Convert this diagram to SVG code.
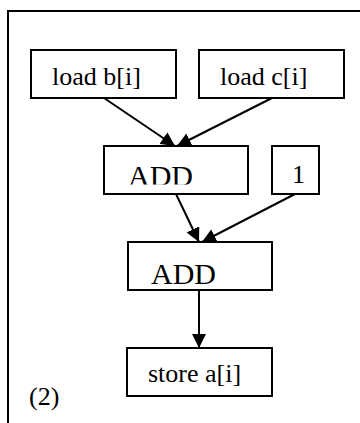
<svg xmlns="http://www.w3.org/2000/svg" width="360" height="423" viewBox="0 0 360 423">
<style>
.box{fill:#fff;stroke:#000;stroke-width:2}
.t{font-family:"Liberation Serif","Times New Roman",serif;font-size:26px;fill:#000}
.big{font-size:30px}
.edge{stroke:#000;stroke-width:2;fill:none}
</style>
<defs>
<marker id="ah" markerUnits="userSpaceOnUse" markerWidth="15" markerHeight="14" refX="14" refY="7" orient="auto">
<path d="M0,0 L14,7 L0,14 Z" fill="#000"/>
</marker>
<clipPath id="c1"><rect x="100" y="140" width="160" height="44.5"/></clipPath>
<clipPath id="c2"><rect x="120" y="240" width="160" height="44.5"/></clipPath>
</defs>
<rect x="8" y="11" width="370" height="430" fill="none" stroke="#000" stroke-width="2"/>
<g id="connectors">
<line class="edge" x1="104" y1="98" x2="175" y2="146" marker-end="url(#ah)"/>
<line class="edge" x1="272" y1="98" x2="177" y2="146" marker-end="url(#ah)"/>
<line class="edge" x1="176" y1="194" x2="199" y2="242" marker-end="url(#ah)"/>
<line class="edge" x1="295" y1="194" x2="202" y2="242" marker-end="url(#ah)"/>
<line class="edge" x1="199" y1="290" x2="199" y2="348" marker-end="url(#ah)"/>
</g>
<g id="load_b">
<rect class="box" x="31" y="50" width="145" height="48"/>
<text class="t" x="52" y="85">load b[i]</text>
</g>
<g id="load_c">
<rect class="box" x="199" y="50" width="145" height="48"/>
<text class="t" x="220" y="85">load c[i]</text>
</g>
<g id="add1">
<rect class="box" x="104" y="146" width="144" height="48"/>
<text class="t big" x="128" y="186" clip-path="url(#c1)">ADD</text>
</g>
<g id="one">
<rect class="box" x="272" y="146" width="47" height="48"/>
<text class="t" x="292" y="183">1</text>
</g>
<g id="add2">
<rect class="box" x="128" y="242" width="144" height="48"/>
<text class="t big" x="151" y="284" clip-path="url(#c2)">ADD</text>
</g>
<g id="store">
<rect class="box" x="127" y="348" width="145" height="48"/>
<text class="t" x="148" y="382">store a[i]</text>
</g>
<text class="t" x="29" y="405">(2)</text>
</svg>
